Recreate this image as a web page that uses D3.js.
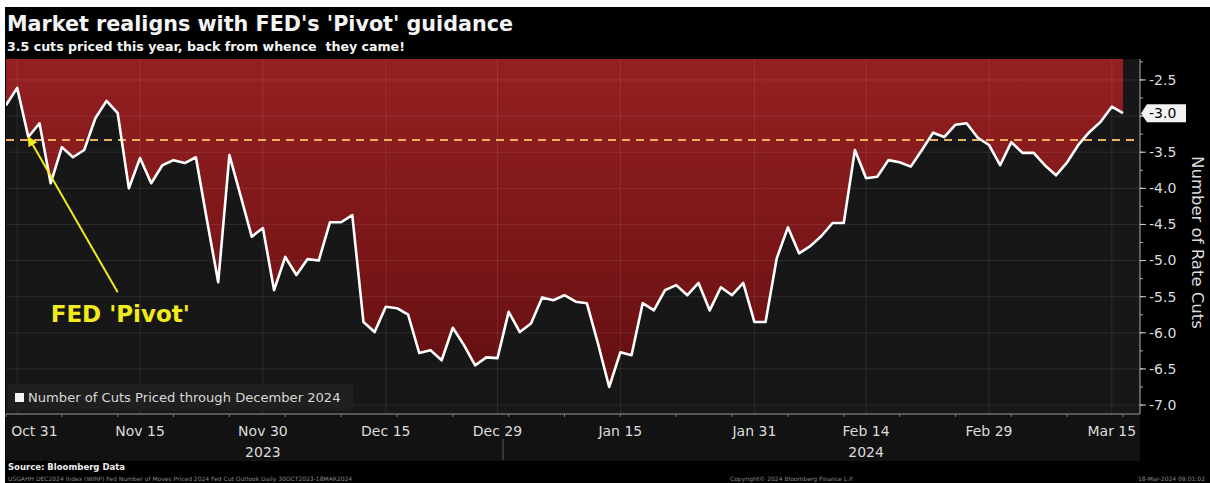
<!DOCTYPE html>
<html><head><meta charset="utf-8">
<script src="https://cdn.jsdelivr.net/npm/d3@7"></script>
<style>html,body{margin:0;padding:0;background:#fff;} svg{display:block;}</style>
</head><body><svg id="c" width="1210" height="483"></svg>
<script>
// ---------------- data ----------------
const startDate = "2023-10-30";
const endDate = "2024-03-18";
const cutsPriced = [
  -2.85, -2.61, -3.29, -3.10, -3.93, -3.43, -3.57, -3.47, -3.03, -2.79,
  -2.96, -4.00, -3.58, -3.93, -3.68, -3.61, -3.65, -3.57, -4.45, -5.30,
  -3.54, -4.10, -4.67, -4.55, -5.41, -4.95, -5.20, -4.98, -5.00, -4.47,
  -4.47, -4.37, -5.85, -5.99, -5.64, -5.66, -5.75, -6.28, -6.24, -6.38,
  -5.93, -6.17, -6.45, -6.34, -6.35, -5.71, -5.99, -5.87, -5.51, -5.55,
  -5.48, -5.57, -5.59, -6.15, -6.75, -6.27, -6.31, -5.59, -5.69, -5.41,
  -5.34, -5.48, -5.31, -5.69, -5.37, -5.48, -5.31, -5.85, -5.85, -4.97,
  -4.54, -4.90, -4.80, -4.66, -4.48, -4.48, -3.47, -3.86, -3.84, -3.61,
  -3.64, -3.70, -3.47, -3.23, -3.29, -3.12, -3.10, -3.30, -3.40, -3.68,
  -3.36, -3.51, -3.51, -3.68, -3.82, -3.64, -3.40, -3.22, -3.08, -2.87,
  -2.96
];
const tickDates = ["2023-10-31","2023-11-15","2023-11-30","2023-12-15","2023-12-29",
                   "2024-01-15","2024-01-31","2024-02-14","2024-02-29","2024-03-15"];
const tickLabels = ["Oct 31","Nov 15","Nov 30","Dec 15","Dec 29",
                    "Jan 15","Jan 31","Feb 14","Feb 29","Mar 15"];
const yearLabels = ["2023","2024"];
const yearAnchorDates = ["2023-11-30","2024-02-14"];
const yearBreak = ["2023-12-29","2024-01-01"];
const yTicks = [-2.5,-3.0,-3.5,-4.0,-4.5,-5.0,-5.5,-6.0,-6.5,-7.0];
const yTickLabels = ["-2.5","-3.0","-3.5","-4.0","-4.5","-5.0","-5.5","-6.0","-6.5","-7.0"];
const guideValue = -3.33;
const lastValueLabel = "-3.0";
const pivotTarget = {date:"2023-11-01", value:-3.29};
const pivotTail = {date:"2023-11-13", value:-5.44};
const pivotText = {date:"2023-11-03", value:-5.85, text:"FED 'Pivot'"};
const titleText = "Market realigns with FED's 'Pivot' guidance";
const subtitleText = "3.5 cuts priced this year, back from whence  they came!";
const legendText = "Number of Cuts Priced through December 2024";
const axisTitle = "Number of Rate Cuts";
const sourceText = "Source: Bloomberg Data";
const footLeft = "USGAHH DEC2024 Index (WIRP) Fed Number of Moves Priced  2024 Fed Cut Outlook  Daily 30OCT2023-18MAR2024";
const footMid = "Copyright\u00A9 2024 Bloomberg Finance L.P.";
const footRight = "18-Mar-2024 09:01:02";

// ---------------- layout ----------------
const svg = d3.select("#c");
const W = 1210, H = 483;
const plot = {left:6, right:1140, top:59, bottom:414};
const parse = d3.utcParse("%Y-%m-%d");
const fmt = d3.utcFormat("%Y-%m-%d");
const dates = d3.utcDay.range(parse(startDate), d3.utcDay.offset(parse(endDate),1))
  .filter(d => d.getUTCDay() !== 0 && d.getUTCDay() !== 6);
const keys = dates.map(fmt);
const data = keys.map((k,i) => ({k, v: cutsPriced[i]}));

const x = d3.scalePoint().domain(keys).range([6, 1123]);
const y = d3.scaleLinear().domain([-2.21, -7.11]).range([plot.top, plot.bottom - 1]);

const defs = svg.append("defs");
const grad = defs.append("linearGradient").attr("id","red").attr("gradientUnits","userSpaceOnUse")
  .attr("x1",0).attr("y1",plot.top).attr("x2",0).attr("y2",plot.bottom);
grad.append("stop").attr("offset","0").attr("stop-color","#952022");
grad.append("stop").attr("offset","0.55").attr("stop-color","#7a1618");
grad.append("stop").attr("offset","1").attr("stop-color","#5c0d0e");
defs.append("clipPath").attr("id","pc").append("rect")
  .attr("x",plot.left).attr("y",plot.top).attr("width",plot.right-plot.left).attr("height",plot.bottom-plot.top);
defs.append("marker").attr("id","ah").attr("viewBox","0 0 10 10").attr("refX",9).attr("refY",5)
  .attr("markerWidth",5).attr("markerHeight",5).attr("orient","auto")
  .append("path").attr("d","M0,0L10,5L0,10z").attr("fill","#f2ea1c");

// backgrounds
svg.append("rect").attr("width",W).attr("height",H).attr("fill","#fff");
svg.append("rect").attr("x",5).attr("y",7).attr("width",W-5).attr("height",H-7).attr("fill","#000");
svg.append("rect").attr("x",plot.left).attr("y",plot.top).attr("width",plot.right-plot.left)
  .attr("height",plot.bottom-plot.top).attr("fill","#171717");
svg.append("rect").attr("x",plot.left).attr("y",plot.bottom).attr("width",plot.right-plot.left)
  .attr("height",461-plot.bottom).attr("fill","#121212");

// title
svg.append("text").attr("x",7).attr("y",31).text(titleText)
  .attr("font-family","DejaVu Sans").attr("font-weight","bold").attr("font-size",20.7).attr("fill","#f4f4f4");
svg.append("text").attr("x",7).attr("y",51).text(subtitleText).style("white-space","pre")
  .attr("font-family","DejaVu Sans").attr("font-weight","bold").attr("font-size",12.6).attr("fill","#f4f4f4");

const g = svg.append("g").attr("clip-path","url(#pc)");
// red area above line
g.append("path").datum(data)
  .attr("d", d3.area().x(d=>x(d.k)).y0(plot.top).y1(d=>y(d.v)))
  .attr("fill","url(#red)");
// gridlines
g.selectAll(".hg").data(yTicks).join("line")
  .attr("x1",plot.left).attr("x2",plot.right).attr("y1",d=>y(d)).attr("y2",d=>y(d))
  .attr("stroke","#fff").attr("stroke-opacity",0.09);
g.selectAll(".vg").data(tickDates).join("line")
  .attr("x1",d=>x(d)).attr("x2",d=>x(d)).attr("y1",plot.top).attr("y2",plot.bottom)
  .attr("stroke","#fff").attr("stroke-opacity",0.09);
// legend box
g.append("rect").attr("x",8).attr("y",384).attr("width",345).attr("height",27).attr("fill","#1f1f1f");
g.append("rect").attr("x",15).attr("y",393).attr("width",9).attr("height",9).attr("fill","#f4f4f4");
g.append("text").attr("x",28).attr("y",402).text(legendText)
  .attr("font-family","DejaVu Sans").attr("font-size",13.1).attr("fill","#d8d8d8");
// guide dashed line
g.append("line").attr("x1",plot.left).attr("x2",plot.right).attr("y1",y(guideValue)).attr("y2",y(guideValue))
  .attr("stroke","#eeb25e").attr("stroke-width",2).attr("stroke-dasharray","8,6");
// data line
g.append("path").datum(data)
  .attr("d", d3.line().x(d=>x(d.k)).y(d=>y(d.v)))
  .attr("fill","none").attr("stroke","#fff").attr("stroke-width",2.6).attr("stroke-linejoin","round");

// annotation
svg.append("line")
  .attr("x1",x(pivotTail.date)).attr("y1",y(pivotTail.value))
  .attr("x2",x(pivotTarget.date)).attr("y2",y(pivotTarget.value))
  .attr("stroke","#f2ea1c").attr("stroke-width",2).attr("marker-end","url(#ah)");
svg.append("text").attr("x",x(pivotText.date)).attr("y",y(pivotText.value)).text(pivotText.text)
  .attr("font-family","DejaVu Sans").attr("font-weight","bold").attr("font-size",23).attr("fill","#f2ea1c");

// right axis
const lastV = cutsPriced[cutsPriced.length-1];
const lv = y(lastV);
const ya = svg.append("g");
ya.append("line").attr("x1",plot.right).attr("x2",plot.right).attr("y1",plot.top).attr("y2",plot.bottom)
  .attr("stroke","#b0b0b0");
ya.selectAll(".mt").data(d3.range(-2.25,-7.1,-0.25)).join("line")
  .attr("x1",plot.right).attr("x2",plot.right+3).attr("y1",d=>y(d)).attr("y2",d=>y(d)).attr("stroke","#b0b0b0");
ya.selectAll(".Mt").data(yTicks).join("line")
  .attr("x1",plot.right).attr("x2",plot.right+6).attr("y1",d=>y(d)).attr("y2",d=>y(d)).attr("stroke","#d0d0d0");
// tick labels hidden behind the last-value box are not drawn
const visibleTicks = yTicks.map((d,i)=>({d,i})).filter(o => Math.abs(y(o.d) - lv) > 12);
ya.selectAll(".yl").data(visibleTicks).join("text")
  .attr("x",plot.right+9).attr("y",o=>y(o.d)).attr("dy","0.35em").text(o=>yTickLabels[o.i])
  .attr("font-family","DejaVu Sans").attr("font-size",14).attr("fill","#dcdcdc");
ya.append("text").attr("transform",`translate(1192,${(plot.top+plot.bottom)/2 + 6}) rotate(90)`)
  .attr("text-anchor","middle").text(axisTitle)
  .attr("font-family","DejaVu Sans").attr("font-size",16.5).attr("fill","#dcdcdc");
// last value box
ya.append("path").attr("d",`M${plot.right+1},${lv}L${plot.right+7},${lv-9}L${plot.right+46},${lv-9}L${plot.right+46},${lv+9}L${plot.right+7},${lv+9}Z`)
  .attr("fill","#f2f2f2");
ya.append("text").attr("x",plot.right+9).attr("y",lv).attr("dy","0.36em").text(lastValueLabel)
  .attr("font-family","DejaVu Sans").attr("font-size",14).attr("fill","#000");

// bottom axis
const xa = svg.append("g");
xa.append("line").attr("x1",plot.left).attr("x2",plot.right).attr("y1",plot.bottom).attr("y2",plot.bottom)
  .attr("stroke","#9a9a9a");
xa.selectAll(".wk").data(keys.filter(k => parse(k).getUTCDay()===1)).join("line")
  .attr("x1",d=>x(d)).attr("x2",d=>x(d)).attr("y1",plot.bottom).attr("y2",plot.bottom+3).attr("stroke","#777");
xa.selectAll(".xl").data(tickDates).join("text")
  .attr("x",(d,i)=> i===0 ? x(d)-6 : x(d)).attr("y",436)
  .attr("text-anchor",(d,i)=> i===0 ? "start" : "middle").text((d,i)=>tickLabels[i])
  .attr("font-family","DejaVu Sans").attr("font-size",14).attr("fill","#dcdcdc");
xa.selectAll(".yr").data(yearAnchorDates).join("text")
  .attr("x",d=>x(d)).attr("y",457).attr("text-anchor","middle").text((d,i)=>yearLabels[i])
  .attr("font-family","DejaVu Sans").attr("font-size",14).attr("fill","#dcdcdc");
const xb = (x(yearBreak[0]) + x(yearBreak[1]))/2;
xa.append("line").attr("x1",xb).attr("x2",xb).attr("y1",439).attr("y2",460).attr("stroke","#5a5a5a");

// footer
svg.append("text").attr("x",8).attr("y",470).text(sourceText)
  .attr("font-family","DejaVu Sans").attr("font-weight","bold").attr("font-size",8.5).attr("fill","#eee");
svg.append("text").attr("x",8).attr("y",481).text(footLeft)
  .attr("font-family","DejaVu Sans").attr("font-size",6).attr("fill","#8a8a8a");
svg.append("text").attr("x",730).attr("y",481).text(footMid)
  .attr("font-family","DejaVu Sans").attr("font-size",6).attr("fill","#8a8a8a");
svg.append("text").attr("x",1205).attr("y",481).attr("text-anchor","end").text(footRight)
  .attr("font-family","DejaVu Sans").attr("font-size",6).attr("fill","#8a8a8a");
</script></body></html>
